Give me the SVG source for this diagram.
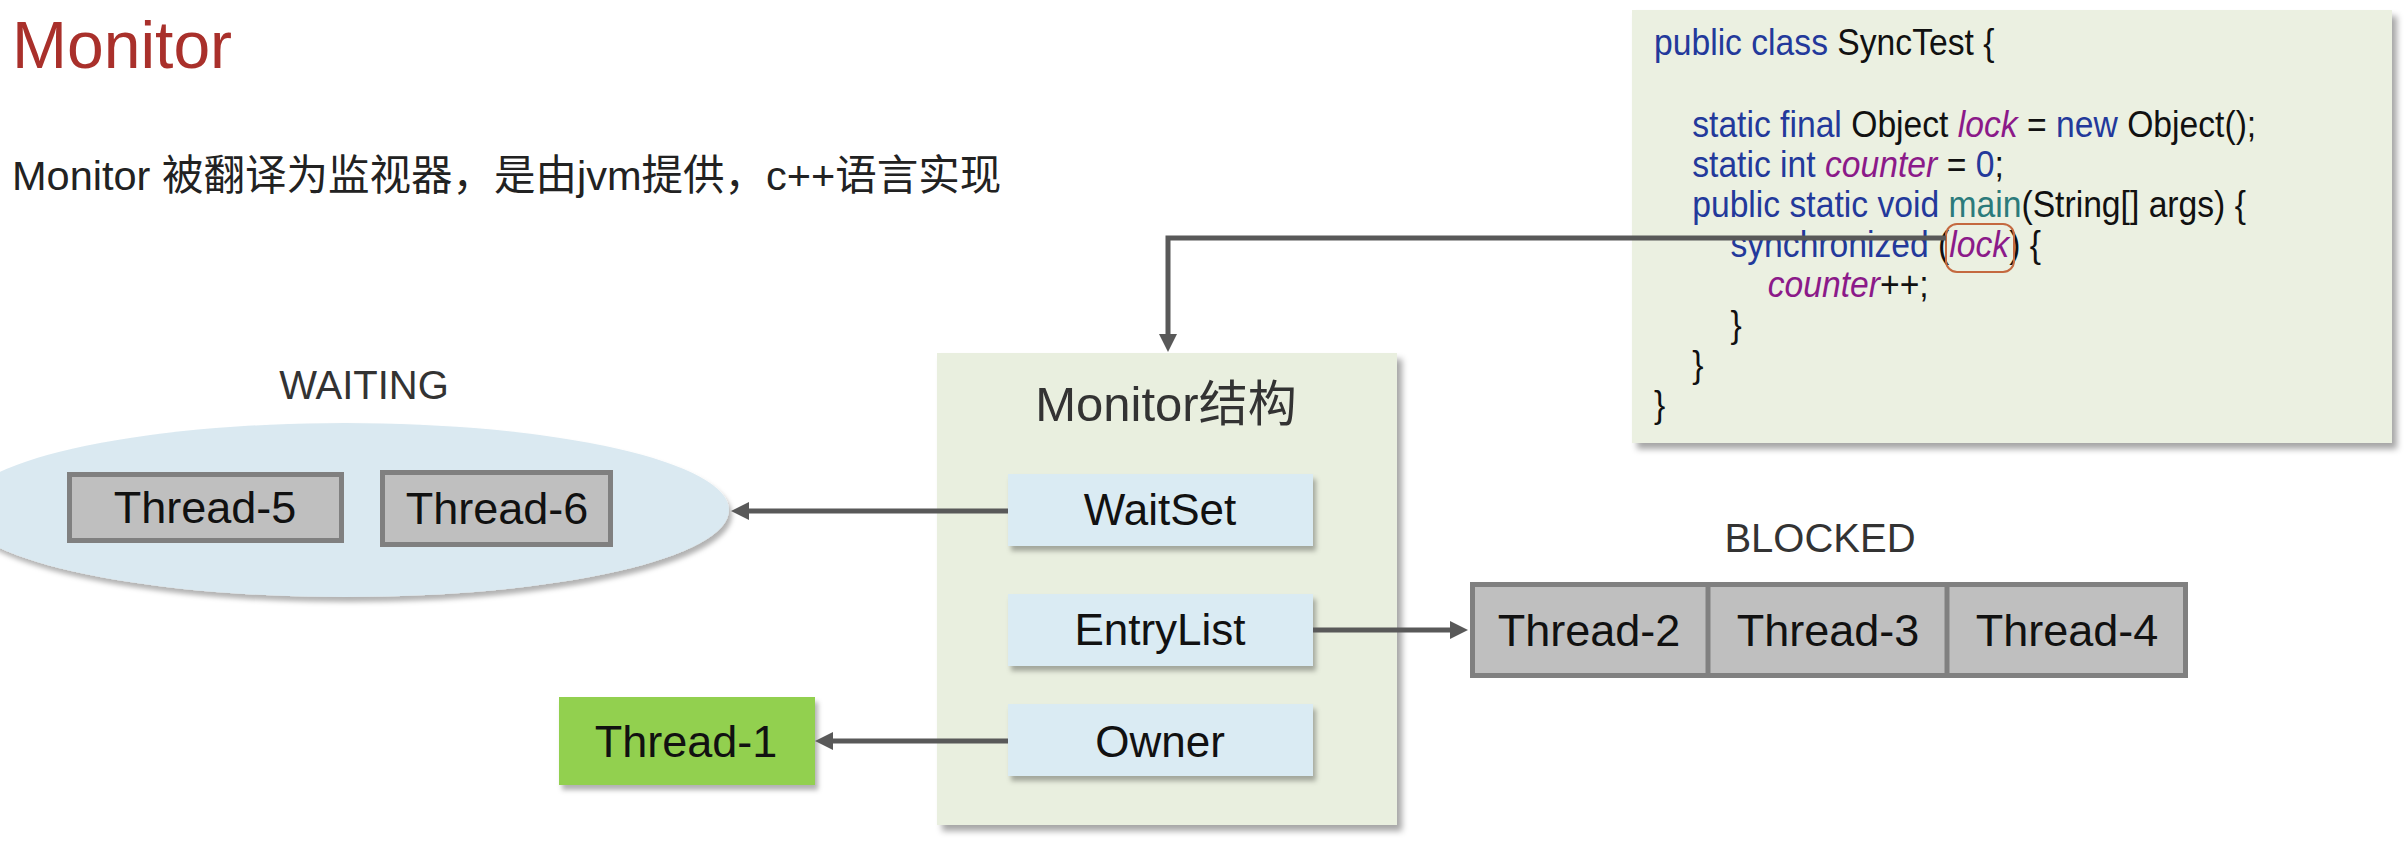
<svg xmlns="http://www.w3.org/2000/svg" width="2408" height="851" viewBox="0 0 2408 851">
<style>
  .sans { font-family: "Liberation Sans", "Noto Sans CJK SC", sans-serif; }
  .lbl { font-family: "Liberation Sans", "Noto Sans CJK SC", sans-serif; font-size: 44px; fill: #111; text-anchor: middle; }
  .thr { font-family: "Liberation Sans", sans-serif; font-size: 45px; fill: #111; text-anchor: middle; }
  .state { font-family: "Liberation Sans", sans-serif; font-size: 40px; fill: #333; text-anchor: middle; }
  .gray { fill: #bfbfbf; stroke: #808080; stroke-width: 5; }
  .inner { fill: #daebf3; }
  .conn { stroke: #595959; stroke-width: 5; fill: none; }
  .code { font-family: "Liberation Sans", sans-serif; font-size: 37px; fill: #111; }
  .kw { fill: #23399b; }
  .fld { fill: #8b1a89; font-style: italic; }
  .mth { fill: #2b7b7b; }
</style>
<defs>
  <filter id="sh" x="-10%" y="-10%" width="130%" height="130%">
    <feDropShadow dx="5" dy="6" stdDeviation="3" flood-color="#000" flood-opacity="0.35"/>
  </filter>
  <filter id="shs" x="-10%" y="-10%" width="130%" height="140%">
    <feDropShadow dx="3" dy="5" stdDeviation="2.5" flood-color="#000" flood-opacity="0.3"/>
  </filter>
  <marker id="arr" markerUnits="userSpaceOnUse" markerWidth="20" markerHeight="20" refX="8" refY="9" orient="auto">
    <path d="M0,0 L18,9 L0,18 z" fill="#595959"/>
  </marker>
</defs>
<rect width="2408" height="851" fill="#ffffff"/>

<g id="title">
  <text class="sans" x="12" y="68" font-size="66" fill="#a9302b">Monitor</text>
  <text class="sans" x="12" y="190" font-size="41.5" fill="#222">Monitor 被翻译为监视器，是由jvm提供，c++语言实现</text>
</g>

<g id="code">
  <rect x="1632" y="10" width="760" height="433" fill="#ebf0e1" filter="url(#sh)"/>
  <g transform="translate(1654 0) scale(0.91 1)" class="code">
    <text x="0" y="55"><tspan class="kw">public class</tspan> SyncTest {</text>
    <text x="42" y="137"><tspan class="kw">static final</tspan> Object <tspan class="fld">lock</tspan> = <tspan class="kw">new</tspan> Object();</text>
    <text x="42" y="177"><tspan class="kw">static int</tspan> <tspan class="fld">counter</tspan> = <tspan class="kw">0</tspan>;</text>
    <text x="42" y="217"><tspan class="kw">public static void</tspan> <tspan class="mth">main</tspan>(String[] args) {</text>
    <text x="84" y="257"><tspan class="kw">synchronized</tspan> (<tspan class="fld">lock</tspan>) {</text>
    <text x="125" y="297"><tspan class="fld">counter</tspan>++;</text>
    <text x="84" y="337">}</text>
    <text x="42" y="377">}</text>
    <text x="0" y="417">}</text>
  </g>
  <rect x="1946" y="224" width="68" height="48" rx="11" fill="none" stroke="#c4693f" stroke-width="2"/>
</g>

<g id="monitor">
  <rect x="937" y="353" width="460" height="472" fill="#e9efdf" filter="url(#sh)"/>
  <text class="sans" x="1166" y="421" font-size="49" fill="#333" text-anchor="middle">Monitor结构</text>
</g>
<g id="waitset">
  <rect class="inner" x="1008" y="474" width="305" height="72" filter="url(#shs)"/>
  <text class="lbl" x="1160" y="525">WaitSet</text>
</g>
<g id="entrylist">
  <rect class="inner" x="1008" y="594" width="305" height="72" filter="url(#shs)"/>
  <text class="lbl" x="1160" y="645">EntryList</text>
</g>
<g id="owner">
  <rect class="inner" x="1008" y="704" width="305" height="72" filter="url(#shs)"/>
  <text class="lbl" x="1160" y="757">Owner</text>
</g>

<g id="waiting">
  <text class="state" x="364" y="399">WAITING</text>
  <ellipse cx="345" cy="510" rx="384" ry="87" fill="#dae9f1" filter="url(#shs)"/>
</g>
<g id="thread5">
  <rect class="gray" x="69.5" y="474.5" width="272" height="66"/>
  <text class="thr" x="205" y="523">Thread-5</text>
</g>
<g id="thread6">
  <rect class="gray" x="382.5" y="472.5" width="228" height="72"/>
  <text class="thr" x="497" y="524">Thread-6</text>
</g>

<g id="blocked">
  <text class="state" x="1820" y="552">BLOCKED</text>
  <rect class="gray" x="1472.5" y="584.5" width="713" height="91"/>
  <line x1="1708" y1="584" x2="1708" y2="676" stroke="#808080" stroke-width="5"/>
  <line x1="1947" y1="584" x2="1947" y2="676" stroke="#808080" stroke-width="5"/>
</g>
<g id="thread2"><text class="thr" x="1589" y="646">Thread-2</text></g>
<g id="thread3"><text class="thr" x="1828" y="646">Thread-3</text></g>
<g id="thread4"><text class="thr" x="2067" y="646">Thread-4</text></g>

<g id="thread1">
  <rect x="559" y="697" width="256" height="88" fill="#92d050" filter="url(#shs)"/>
  <text class="thr" x="686" y="757">Thread-1</text>
</g>

<g id="connectors">
  <polyline class="conn" points="1946,238 1168,238 1168,342" marker-end="url(#arr)"/>
  <line class="conn" x1="1008" y1="511" x2="741" y2="511" marker-end="url(#arr)"/>
  <line class="conn" x1="1313" y1="630" x2="1458" y2="630" marker-end="url(#arr)"/>
  <line class="conn" x1="1008" y1="741" x2="825" y2="741" marker-end="url(#arr)"/>
</g>
</svg>
